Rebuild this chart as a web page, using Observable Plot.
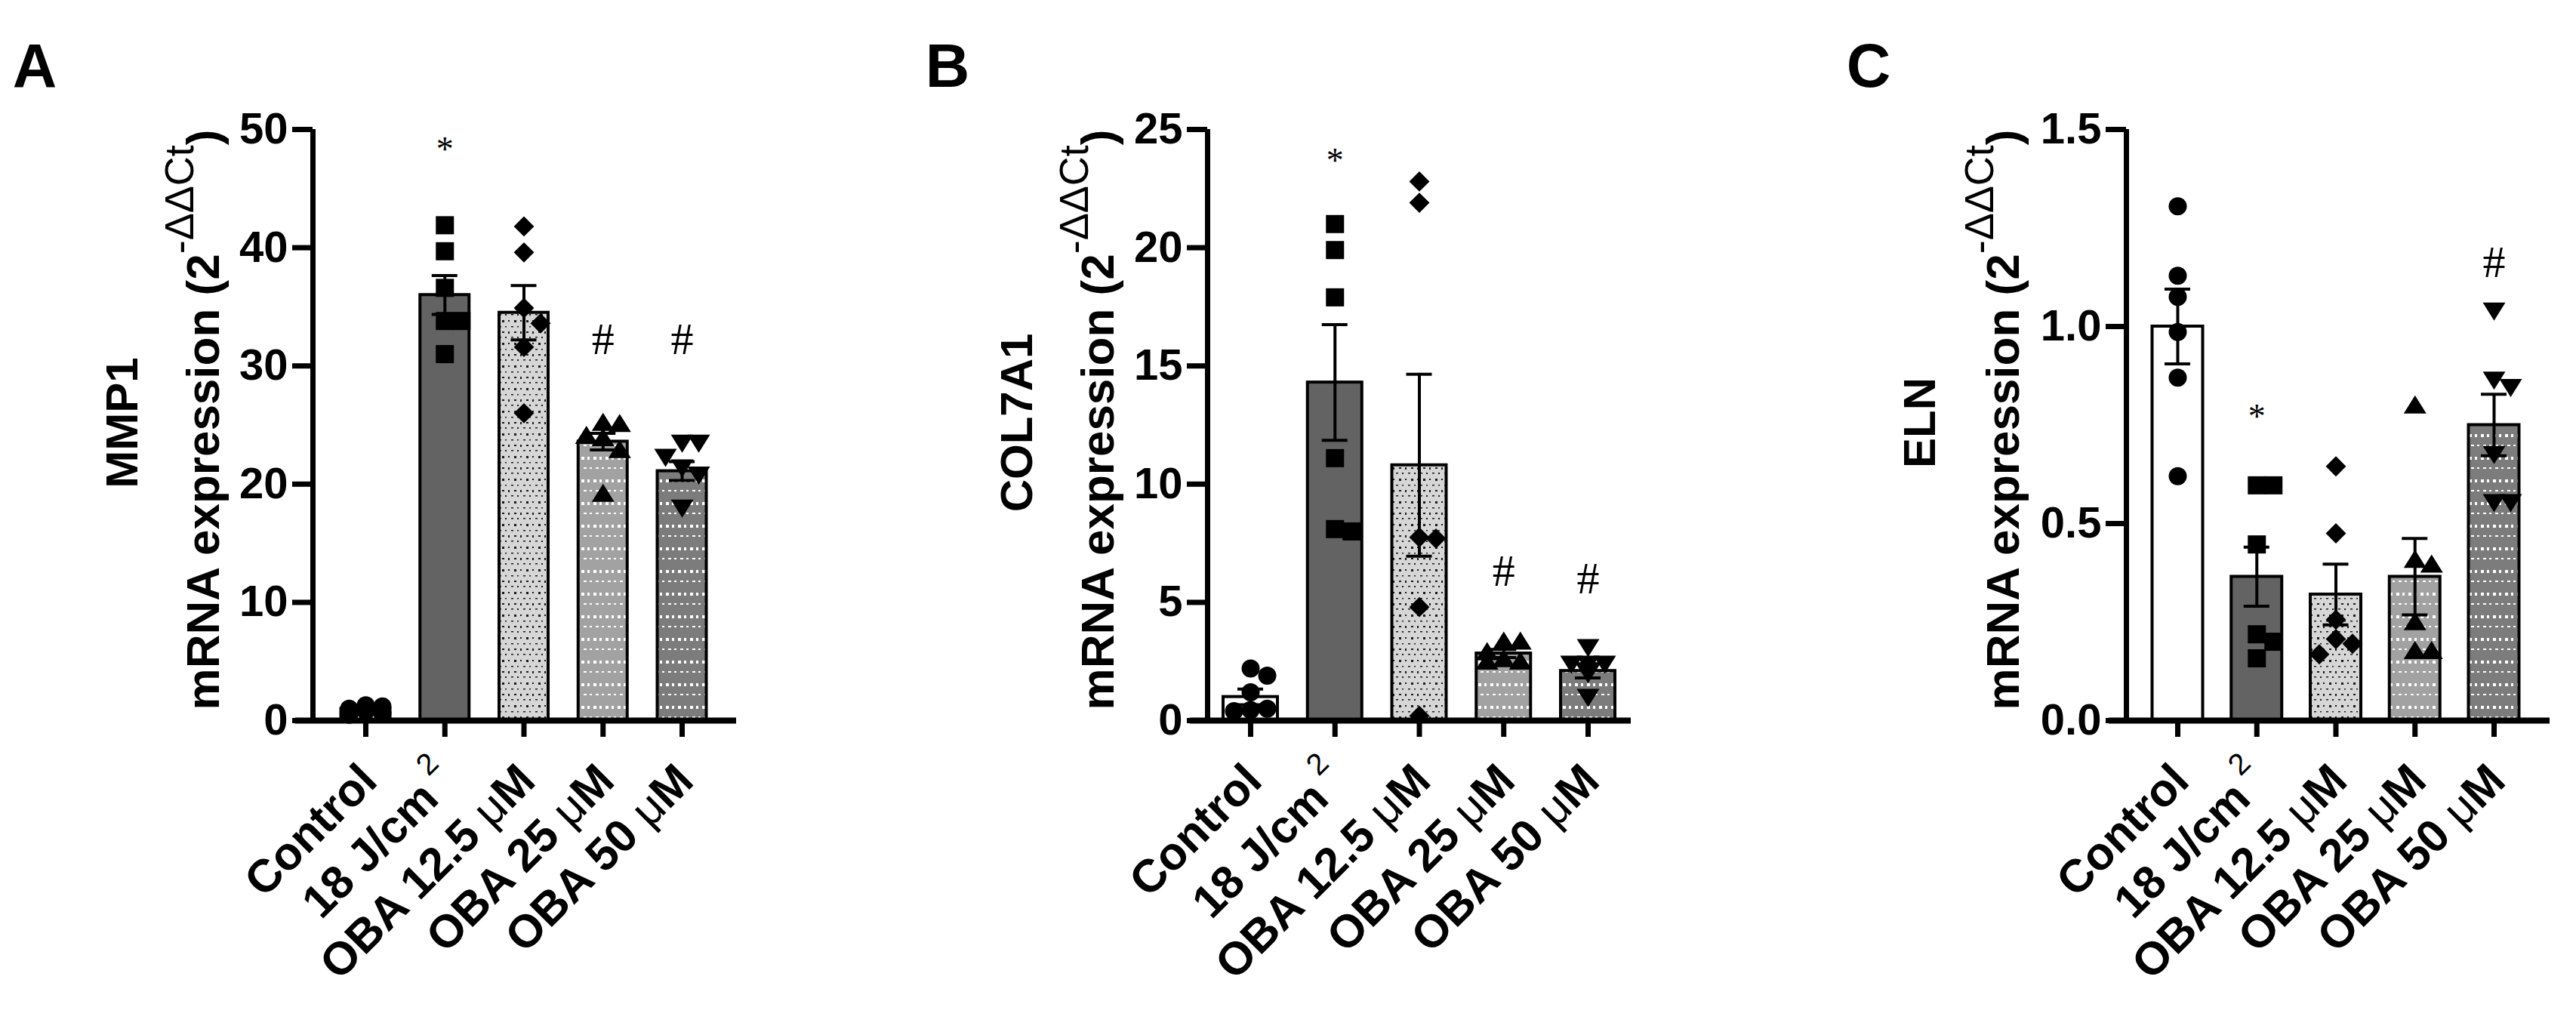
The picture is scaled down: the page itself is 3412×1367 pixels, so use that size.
<!DOCTYPE html>
<html>
<head>
<meta charset="utf-8">
<script src="https://cdn.jsdelivr.net/npm/d3@7"></script>
<script src="https://cdn.jsdelivr.net/npm/@observablehq/plot@0.6"></script>
<style>
  html, body { margin: 0; padding: 0; background: #ffffff; }
  #wrap { position: relative; width: 3412px; height: 1367px; background: #ffffff; overflow: hidden; }
  #wrap svg { position: absolute; top: 0; overflow: visible; }
</style>
</head>
<body>
<div id="wrap"></div>
<script>
// ---------------- data ----------------
const groups = ["Control", "18 J/cm2", "OBA 12.5 μM", "OBA 25 μM", "OBA 50 μM"];

// Panel A: MMP1
const mmp1Mean = [1.0, 36.0, 34.5, 23.6, 21.1];
const mmp1Sem = [0.1, 1.65, 2.3, 0.7, 0.8];
const mmp1Control = [1.3, 1.2, 1.0, 0.8, 0.6, 0.5];
const mmp1Uv = [41.9, 39.7, 36.6, 33.8, 33.8, 31.0];
const mmp1Oba125 = [41.8, 39.6, 34.9, 33.6, 31.6, 26.0];
const mmp1Oba25 = [25.2, 25.1, 24.1, 23.9, 22.9, 19.2];
const mmp1Oba50 = [23.5, 23.5, 22.3, 21.4, 20.8, 18.0];
const mmp1Ticks = [0, 10, 20, 30, 40, 50];
const mmp1Signs = ["", "*", "", "#", "#"];
const mmp1SignAt = [null, 48.9, null, 32.2, 32.2];

// Panel B: COL7A1
const col7Mean = [1.0, 14.3, 10.8, 2.84, 2.1];
const col7Sem = [0.33, 2.45, 3.85, 0.17, 0.3];
const col7Control = [2.2, 1.9, 1.2, 0.5, 0.45, 0.4];
const col7Uv = [21.0, 19.9, 17.9, 11.1, 8.1, 8.0];
const col7Oba125 = [22.8, 21.9, 7.75, 7.7, 4.8, 0.2];
const col7Oba25 = [3.35, 3.35, 2.9, 2.6, 2.5, 2.5];
const col7Oba50 = [3.1, 2.4, 2.4, 2.4, 2.0, 1.0];
const col7Ticks = [0, 5, 10, 15, 20, 25];
const col7Signs = ["", "*", "", "#", "#"];
const col7SignAt = [null, 24.0, null, 6.3, 6.0];

// Panel C: ELN
const elnMean = [1.0, 0.365, 0.32, 0.365, 0.75];
const elnSem = [0.095, 0.075, 0.077, 0.097, 0.078];
const elnControl = [1.305, 1.129, 1.075, 0.986, 0.87, 0.62];
const elnUv = [0.597, 0.597, 0.447, 0.219, 0.2, 0.158];
const elnOba125 = [0.645, 0.475, 0.256, 0.207, 0.195, 0.168];
const elnOba25 = [0.80, 0.408, 0.396, 0.25, 0.177, 0.177];
const elnOba50 = [1.04, 0.865, 0.846, 0.676, 0.554, 0.554];
const elnTicks = [0, 0.5, 1.0, 1.5];
const elnSigns = ["", "*", "", "", "#"];
const elnSignAt = [null, 0.79, null, null, 1.163];

// ---------------- style / layout ----------------
const H = 1367, TOP = 171, AXIS = 954;
const SANS = "'Liberation Sans', Arial, Helvetica, sans-serif";
const SERIF = "'Liberation Serif', 'Times New Roman', serif";

function rOf(size) { return Math.sqrt(size / Math.PI); }
const SYM = [
  { draw(c, s) { const r = rOf(s); c.moveTo(r, 0); c.arc(0, 0, r, 0, 2 * Math.PI); c.closePath(); } },
  { draw(c, s) { const r = rOf(s); c.rect(-r, -r, 2 * r, 2 * r); } },
  { draw(c, s) { const r = rOf(s) * 1.12; c.moveTo(0, -r); c.lineTo(r, 0); c.lineTo(0, r); c.lineTo(-r, 0); c.closePath(); } },
  { draw(c, s) { const r = rOf(s); c.moveTo(0, -r * 1.1); c.lineTo(r * 1.25, r * 0.9); c.lineTo(-r * 1.25, r * 0.9); c.closePath(); } },
  { draw(c, s) { const r = rOf(s); c.moveTo(0, r * 1.1); c.lineTo(r * 1.25, -r * 0.9); c.lineTo(-r * 1.25, -r * 0.9); c.closePath(); } }
];

// spread points horizontally (GraphPad-like scatter) in pixel space
function spread(values, ppu, stepPx, minDist) {
  const order = values.map((v, j) => j).sort((a, b) => values[b] - values[a]);
  const placed = [];
  const off = new Array(values.length).fill(0);
  for (const j of order) {
    const py = values[j] * ppu;
    let best = 0, bestScore = -Infinity;
    for (const k of [0, 1, -1]) {
      const px = k * stepPx;
      let md = Infinity;
      for (const p of placed) md = Math.min(md, Math.hypot(p.px - px, p.py - py));
      if (md >= minDist) { best = px; break; }
      if (md > bestScore) { bestScore = md; best = px; }
    }
    placed.push({ px: best, py });
    off[j] = best;
  }
  return off;
}

function addPatterns(svg, id) {
  const defs = svg.insert("defs", ":first-child");
  const p1 = defs.append("pattern").attr("id", id + "-lt").attr("patternUnits", "userSpaceOnUse").attr("width", 16).attr("height", 30);
  p1.append("rect").attr("width", 16).attr("height", 30).attr("fill", "#d6d6d6");
  [[1, 4, 2, 2], [9, 4, 3, 3], [5, 12, 3, 1.5], [13, 12, 2, 1.5], [1, 19, 2, 3], [9, 19, 3, 2], [5, 26, 3, 1.5], [13, 26, 2, 2]]
    .forEach(([x, y, w, h]) => p1.append("rect").attr("x", x).attr("y", y).attr("width", w).attr("height", h).attr("fill", "#1a1a1a"));
  [["md", "#a2a2a2"], ["dk", "#7c7c7c"]].forEach(([k, col]) => {
    const p = defs.append("pattern").attr("id", id + "-" + k).attr("patternUnits", "userSpaceOnUse").attr("width", 16).attr("height", 30);
    p.append("rect").attr("width", 16).attr("height", 30).attr("fill", col);
    [[2, 5, 4, 4], [10, 5, 3, 4], [5, 19, 4, 2], [13, 19, 3, 2]]
      .forEach(([x, y, w, h]) => p.append("rect").attr("x", x).attr("y", y).attr("width", w).attr("height", h).attr("fill", "#ffffff"));
  });
}

function panel(cfg) {
  const { id, left, width, yAxisX, firstTick, lastTick, frameRight, barW, yMax, ticks, fmt,
          means, sems, points, signs, signAt, gene, letter, letterX, t1, t2 } = cfg;
  const ml = yAxisX - left, mr = left + width - frameRight;
  const unit = (lastTick - firstTick) / (groups.length - 1);
  const xd = [-(firstTick - yAxisX) / unit, groups.length - 1 + (frameRight - lastTick) / unit];
  const ppu = (AXIS - TOP) / yMax;
  const hw = barW / 2 / unit, cap = 17 / unit;
  const fills = ["#ffffff", "#636363", `url(#${id}-lt)`, `url(#${id}-md)`, `url(#${id}-dk)`];

  const bars = means.map((m, i) => ({ i, m, lo: m - sems[i], hi: m + sems[i], fill: fills[i] }));
  const dotMarks = points.map((vals, i) => {
    const off = spread(vals, ppu, 22, 22);
    const data = vals.map((v, j) => ({ x: i + off[j] / unit, v }));
    return Plot.dot(data, { x: "x", y: "v", r: 12, symbol: SYM[i], fill: "black", stroke: "none" });
  });
  const signData = signs.map((s, i) => ({ i, s, y: signAt[i] })).filter(d => d.s);
  const labelData = groups.map((g, i) => ({ i, g }));

  const svgEl = Plot.plot({
    width, height: H,
    marginLeft: ml, marginRight: mr, marginTop: TOP, marginBottom: H - AXIS,
    style: { fontFamily: SANS, background: "transparent", overflow: "visible", color: "black" },
    x: { type: "linear", domain: xd },
    y: { domain: [0, yMax] },
    color: { type: "identity" },
    marks: [
      Plot.rect(bars, { x1: d => d.i - hw, x2: d => d.i + hw, y1: 0, y2: "m", fill: "fill", stroke: "black", strokeWidth: 4 }),
      ...dotMarks,
      Plot.ruleX(bars, { x: "i", y1: "lo", y2: "hi", stroke: "black", strokeWidth: 4 }),
      Plot.ruleY(bars, { y: "hi", x1: d => d.i - cap, x2: d => d.i + cap, stroke: "black", strokeWidth: 4 }),
      Plot.ruleY(bars, { y: "lo", x1: d => d.i - cap, x2: d => d.i + cap, stroke: "black", strokeWidth: 4 }),
      Plot.text(signData.filter(d => d.s === "#"), { x: "i", y: "y", text: "s", fontFamily: SERIF, fontSize: 60, fill: "black" }),
      Plot.text(signData.filter(d => d.s === "*"), { x: "i", y: "y", text: "s", fontFamily: SERIF, fontSize: 46, dy: 10, fill: "black" }),
      Plot.ruleX([xd[0]], { y1: 0, y2: yMax, stroke: "black", strokeWidth: 7 }),
      Plot.ruleY([0], { stroke: "black", strokeWidth: 8, insetLeft: -23 }),
      Plot.axisY({ ticks, tickFormat: fmt, tickSize: 27, tickPadding: 6, strokeWidth: 7, fontSize: 58, fontWeight: "bold", label: null }),
      Plot.axisX({ ticks: labelData.map(d => d.i), tickFormat: () => "", tickSize: 22, strokeWidth: 7, label: null }),
      Plot.text(labelData, { x: "i", y: 0, text: "g", rotate: -45, textAnchor: "end", lineAnchor: "bottom",
                             dx: 18, dy: 83, fontSize: 61, fontWeight: "bold", fill: "black", ariaLabel: "group label" })
    ]
  });

  const svg = d3.select(svgEl).style("left", left + "px");
  addPatterns(svg, id);

  // rich group labels (superscript 2, regular-weight mu)
  svg.selectAll("text").each(function () {
    if (this.childElementCount) return;
    const s = this.textContent;
    const t = d3.select(this);
    if (s === "18 J/cm2") {
      t.text(null);
      t.append("tspan").text("18 J/cm");
      t.append("tspan").attr("font-weight", "normal").attr("font-size", 40).attr("dy", -34).text(" 2");
    } else if (s.includes("μ")) {
      const [a, b] = s.split("μ");
      t.text(null);
      t.append("tspan").text(a);
      t.append("tspan").attr("font-weight", "normal").text("μ");
      t.append("tspan").text(b);
    }
  });

  // y titles
  svg.append("text").attr("transform", `translate(${ml + t1},560) rotate(-90)`)
    .attr("text-anchor", "middle").attr("font-family", SANS).attr("font-size", 60).attr("font-weight", "bold")
    .attr("fill", "black").append("tspan").attr("dy", 21).text(gene);
  const tt = svg.append("text").attr("transform", `translate(${ml + t2},556) rotate(-90)`)
    .attr("text-anchor", "middle").attr("font-family", SANS).attr("font-size", 62).attr("font-weight", "bold").attr("fill", "black");
  tt.append("tspan").attr("dy", 22).text("mRNA expression (2");
  tt.append("tspan").attr("font-size", 54).attr("font-weight", "normal").attr("dy", -34).text("-ΔΔCt");
  tt.append("tspan").attr("dy", 34).text(")");

  // panel letter
  svg.append("text").attr("x", letterX - left).attr("y", 115).attr("font-family", SANS)
    .attr("font-size", 81).attr("font-weight", "bold").attr("fill", "black").text(letter);

  document.getElementById("wrap").appendChild(svgEl);
}

panel({ id: "pa", left: 0, width: 1140, yAxisX: 414, firstTick: 484, lastTick: 903, frameRight: 975, barW: 65,
        yMax: 50, ticks: mmp1Ticks, fmt: d3.format("d"), means: mmp1Mean, sems: mmp1Sem,
        points: [mmp1Control, mmp1Uv, mmp1Oba125, mmp1Oba25, mmp1Oba50],
        signs: mmp1Signs, signAt: mmp1SignAt, gene: "MMP1", letter: "A", letterX: 46, t1: -253, t2: -146 });

panel({ id: "pb", left: 1140, width: 1120, yAxisX: 1599, firstTick: 1656, lastTick: 2103, frameRight: 2160, barW: 72,
        yMax: 25, ticks: col7Ticks, fmt: d3.format("d"), means: col7Mean, sems: col7Sem,
        points: [col7Control, col7Uv, col7Oba125, col7Oba25, col7Oba50],
        signs: col7Signs, signAt: col7SignAt, gene: "COL7A1", letter: "B", letterX: 1255, t1: -253, t2: -146 });

panel({ id: "pc", left: 2260, width: 1152, yAxisX: 2816, firstTick: 2884, lastTick: 3303, frameRight: 3377, barW: 67,
        yMax: 1.5, ticks: elnTicks, fmt: d3.format(".1f"), means: elnMean, sems: elnSem,
        points: [elnControl, elnUv, elnOba125, elnOba25, elnOba50],
        signs: elnSigns, signAt: elnSignAt, gene: "ELN", letter: "C", letterX: 2475, t1: -274, t2: -164 });
</script>
</body>
</html>
